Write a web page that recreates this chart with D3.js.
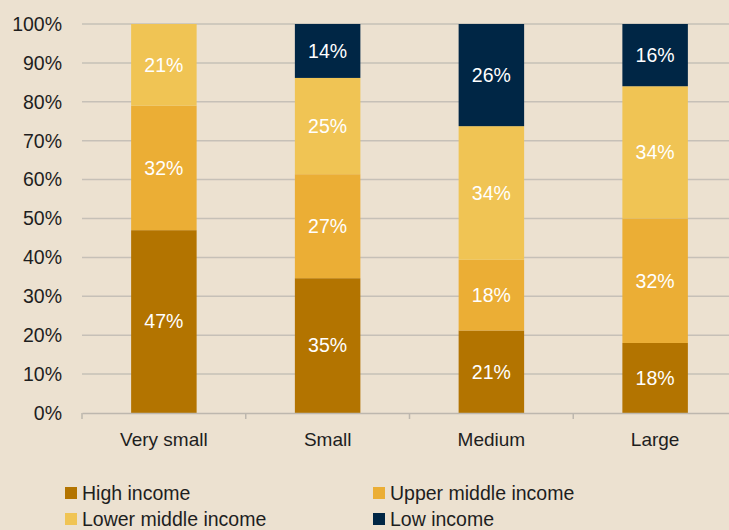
<!DOCTYPE html>
<html>
<head>
<meta charset="utf-8">
<script src="https://cdn.jsdelivr.net/npm/d3@7"></script>
<style>
  html, body { margin: 0; padding: 0; background: #ECE1D0; }
  svg { display: block; }
  text { font-family: "Liberation Sans", Arial, sans-serif; }
</style>
</head>
<body>
<svg id="chart" width="729" height="530"></svg>
<script>
// Firm size groups along the x axis
const categories = ["Very small", "Small", "Medium", "Large"];
// Income group series (percent shares, as labelled)
const seriesNames = ["High income", "Upper middle income", "Lower middle income", "Low income"];
const highIncome = [47, 35, 21, 18];
const upperMiddle = [32, 27, 18, 32];
const lowerMiddle = [21, 25, 34, 34];
const lowIncome = [0, 14, 26, 16];
const yTicks = [0, 10, 20, 30, 40, 50, 60, 70, 80, 90, 100];
const colors = ["#B37400", "#EBAE35", "#F0C454", "#002645"];

const rows = categories.map((c, i) => ({
  category: c,
  "High income": highIncome[i],
  "Upper middle income": upperMiddle[i],
  "Lower middle income": lowerMiddle[i],
  "Low income": lowIncome[i]
}));

const svg = d3.select("#chart");
const margin = { left: 82, right: -8, top: 24, bottom: 117 };
const W = 729, H = 530;
const FS = 19.5;

const x = d3.scaleBand().domain(categories).range([margin.left, W - margin.right]).padding(0);
const y = d3.scaleLinear().domain([0, 1]).range([H - margin.bottom, margin.top]);
const color = d3.scaleOrdinal().domain(seriesNames).range(colors);

// Shares are normalised so each bar fills 0–100%
const stacked = d3.stack().keys(seriesNames).offset(d3.stackOffsetExpand)(rows);

// Horizontal gridlines
svg.append("g")
  .selectAll("line")
  .data(yTicks.filter(t => t > 0))
  .join("line")
  .attr("x1", margin.left).attr("x2", W)
  .attr("y1", t => y(t / 100)).attr("y2", t => y(t / 100))
  .attr("stroke", "#C6C0B7").attr("stroke-width", 1.5);

// Y axis labels
svg.append("g")
  .selectAll("text")
  .data(yTicks)
  .join("text")
  .attr("x", 62)
  .attr("y", t => y(t / 100))
  .attr("dy", "0.35em")
  .attr("text-anchor", "end")
  .attr("font-size", FS)
  .attr("fill", "#1E1E1E")
  .text(t => t + "%");

// Bars
const barW = x.bandwidth() * 0.4;
const layers = svg.append("g")
  .selectAll("g")
  .data(stacked)
  .join("g")
  .attr("fill", d => color(d.key));

layers.selectAll("rect")
  .data(d => d.map(v => Object.assign(v, { key: d.key })))
  .join("rect")
  .attr("x", d => x(d.data.category) + (x.bandwidth() - barW) / 2)
  .attr("width", barW)
  .attr("y", d => y(d[1]))
  .attr("height", d => y(d[0]) - y(d[1]));

// Value labels
layers.selectAll("text")
  .data(d => d.filter(v => v.data[d.key] > 0))
  .join("text")
  .attr("x", d => x(d.data.category) + x.bandwidth() / 2)
  .attr("y", d => y((d[0] + d[1]) / 2))
  .attr("dy", "0.35em")
  .attr("text-anchor", "middle")
  .attr("font-size", FS)
  .attr("fill", "#FFFFFF")
  .text(d => d.data[d.key] + "%");

// X axis baseline and category dividers
const xAxis = d3.axisBottom(x).tickSize(0).tickFormat(d => d);
const axisG = svg.append("g")
  .attr("transform", `translate(0,${y(0)})`)
  .call(xAxis);
axisG.select(".domain").attr("stroke", "#BDB7AE").attr("stroke-width", 1.5);
axisG.selectAll(".tick text")
  .attr("font-size", 19)
  .attr("font-family", "Liberation Sans, Arial, sans-serif")
  .attr("fill", "#1E1E1E")
  .attr("dy", "1.6em");
svg.append("g")
  .selectAll("line")
  .data(categories)
  .join("line")
  .attr("x1", d => x(d)).attr("x2", d => x(d))
  .attr("y1", y(0)).attr("y2", y(0) + 6)
  .attr("stroke", "#BDB7AE").attr("stroke-width", 1.5);

// Legend
const legendPos = [[65, 493], [373, 493], [65, 519], [373, 519]];
const legend = svg.append("g")
  .selectAll("g")
  .data(seriesNames)
  .join("g")
  .attr("transform", (d, i) => `translate(${legendPos[i][0]},${legendPos[i][1]})`);
legend.append("rect")
  .attr("x", 0).attr("y", -6)
  .attr("width", 12).attr("height", 12)
  .attr("fill", d => color(d));
legend.append("text")
  .attr("x", 17).attr("y", 0)
  .attr("dy", "0.35em")
  .attr("font-size", FS)
  .attr("fill", "#1E1E1E")
  .text(d => d);
</script>
</body>
</html>
